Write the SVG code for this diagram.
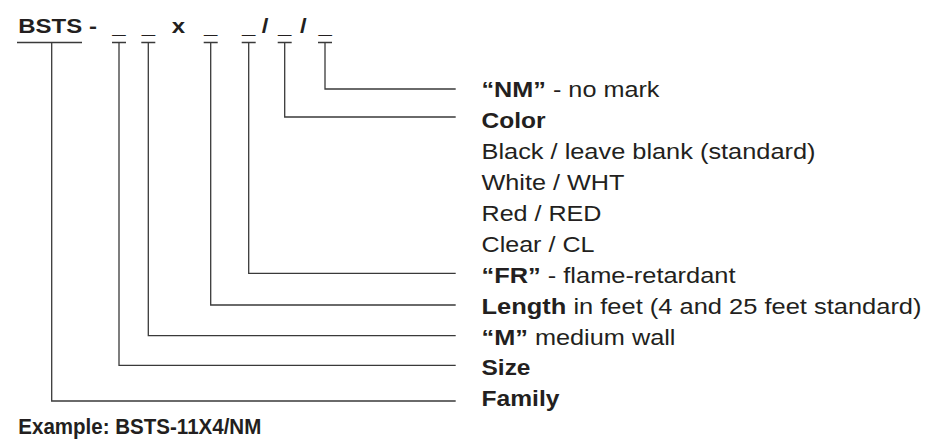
<svg xmlns="http://www.w3.org/2000/svg" width="927" height="439" viewBox="0 0 927 439">
<style>
text{font-family:"Liberation Sans",Arial,sans-serif;fill:#231f20;font-size:21.5px}
.b{font-weight:bold}
.top{font-size:21px;font-weight:bold}
.ex{font-family:"Liberation Sans Narrow","Liberation Sans",Arial,sans-serif;font-weight:bold;font-size:22.5px}
.c{fill:none;stroke:#3a3a3a;stroke-width:1.3}
</style>
<rect width="927" height="439" fill="#fff"/>
<g id="code">
<text class="top" transform="translate(0,32.5) scale(1.143,1)"><tspan x="16">BSTS -</tspan><tspan x="98.3">_</tspan><tspan x="124">_</tspan><tspan x="150.2">x</tspan><tspan x="178.6">_</tspan><tspan x="211.8">_</tspan><tspan x="229">/</tspan><tspan x="243.3">_</tspan><tspan x="262.5">/</tspan><tspan x="278.6">_</tspan></text>
</g>
<g id="connectors">
<path class="c" d="M17,42.5H82M51.7,42.5V401H455.7"/>
<path class="c" d="M112,42.5H126M119,42.5V365.3H455.7"/>
<path class="c" d="M141.3,42.5H155.3M148.3,42.5V335.7H455.7"/>
<path class="c" d="M203.7,42.5H217.7M210.7,42.5V305H455.7"/>
<path class="c" d="M241.7,42.5H255.7M248.7,42.5V273.3H455.7"/>
<path class="c" d="M277.7,42.5H291.7M284.7,42.5V117H455.7"/>
<path class="c" d="M318,42.5H332M325,42.5V89H455.7"/>
</g>
<g id="nm"><text x="481.5" y="97" textLength="178" lengthAdjust="spacingAndGlyphs"><tspan class="b">“NM”</tspan> - no mark</text></g>
<g id="color">
<text class="b" x="481.5" y="128" textLength="64" lengthAdjust="spacingAndGlyphs">Color</text>
<text x="481.5" y="159" textLength="334" lengthAdjust="spacingAndGlyphs">Black / leave blank (standard)</text>
<text x="481.5" y="190" textLength="143" lengthAdjust="spacingAndGlyphs">White / WHT</text>
<text x="481.5" y="221" textLength="120" lengthAdjust="spacingAndGlyphs">Red / RED</text>
<text x="481.5" y="252" textLength="113" lengthAdjust="spacingAndGlyphs">Clear / CL</text>
</g>
<g id="fr"><text x="481.5" y="283" textLength="254" lengthAdjust="spacingAndGlyphs"><tspan class="b">“FR”</tspan> - flame-retardant</text></g>
<g id="length"><text x="481.5" y="314" textLength="440" lengthAdjust="spacingAndGlyphs"><tspan class="b">Length</tspan> in feet (4 and 25 feet standard)</text></g>
<g id="m"><text x="481.5" y="345" textLength="194" lengthAdjust="spacingAndGlyphs"><tspan class="b">“M”</tspan> medium wall</text></g>
<g id="size"><text class="b" x="481.5" y="375" textLength="49" lengthAdjust="spacingAndGlyphs">Size</text></g>
<g id="family"><text class="b" x="481.5" y="406" textLength="78" lengthAdjust="spacingAndGlyphs">Family</text></g>
<g id="example"><text class="ex" x="18.3" y="433.5" textLength="243" lengthAdjust="spacingAndGlyphs">Example: BSTS-11X4/NM</text></g>
</svg>
